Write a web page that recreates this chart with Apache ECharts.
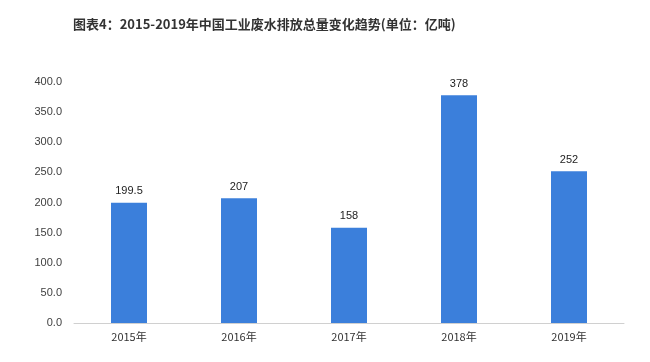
<!DOCTYPE html>
<html><head><meta charset="utf-8">
<script src="https://cdn.jsdelivr.net/npm/echarts@6/dist/echarts.min.js"></script>
<style>html,body{margin:0;padding:0;background:#fff}#c{width:650px;height:362px}</style>
</head><body><div id="c"></div>
<script>
const categories = ['2015年','2016年','2017年','2018年','2019年'];
const values = [199.5, 207, 158, 378, 252];
const titleText = '图表4：2015-2019年中国工业废水排放总量变化趋势(单位：亿吨)';
const chart = echarts.init(document.getElementById('c'));
chart.setOption({
  animation: false,
  backgroundColor: '#fff',
  title: {
    text: titleText, left: 68, top: 13,
    textStyle: {fontFamily: 'Noto Sans CJK SC', fontSize: 13, fontWeight: 'bold', color: '#333'}
  },
  grid: {left: 74, right: 26, top: 82, bottom: 39},
  xAxis: {
    type: 'category', data: categories,
    axisLine: {lineStyle: {color: '#d0d0d0'}},
    axisTick: {show: false},
    axisLabel: {fontFamily: 'Noto Sans CJK SC', fontSize: 11, color: '#333', margin: 8}
  },
  yAxis: {
    type: 'value', min: 0, max: 400, interval: 50,
    axisLine: {show: false}, axisTick: {show: false},
    splitLine: {show: false},
    axisLabel: {formatter: v => v.toFixed(1), fontFamily: 'Liberation Sans', fontSize: 11, color: '#404040', margin: 12}
  },
  series: [{
    type: 'bar', data: values, barWidth: 36,
    itemStyle: {color: '#3b7fdb'},
    label: {show: true, position: 'top', distance: 6, fontFamily: 'Liberation Sans', fontSize: 11, color: '#222'}
  }]
});
</script></body></html>
